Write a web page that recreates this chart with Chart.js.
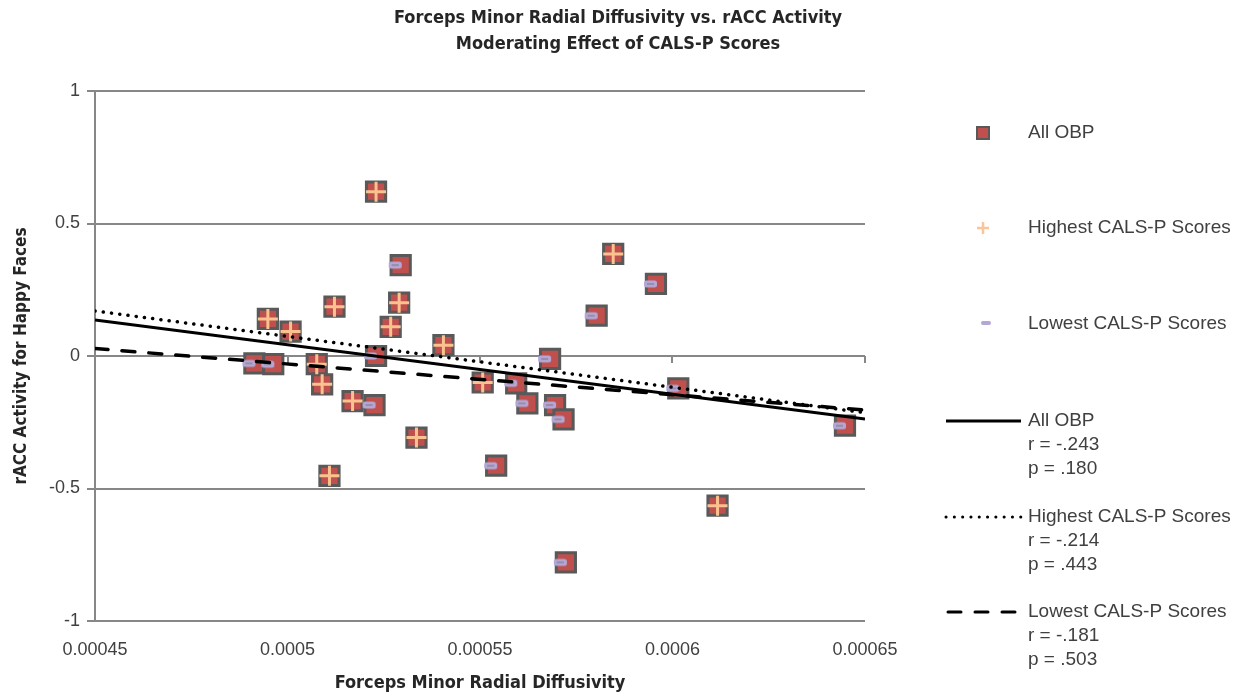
<!DOCTYPE html>
<html>
<head>
<meta charset="utf-8">
<title>Forceps Minor Radial Diffusivity vs. rACC Activity</title>
<script src="https://cdn.jsdelivr.net/npm/chart.js@4.4.1/dist/chart.umd.min.js"></script>
<style>
  html, body { margin: 0; padding: 0; background: #ffffff; }
  #wrap { position: relative; width: 1239px; height: 698px; }
</style>
</head>
<body>
<div id="wrap"><canvas id="chart" width="1239" height="698"></canvas></div>
<script>
// Participants with the highest CALS-P scores
const highestX = [0.000523, 0.000529, 0.0005122, 0.0004949, 0.0005008, 0.0005268, 0.0005076, 0.000509,
                  0.0005405, 0.0005169, 0.0005335, 0.0005109, 0.0005507, 0.0005846, 0.0006117];
const highestY = [0.62, 0.201, 0.186, 0.14, 0.092, 0.11, -0.031, -0.107,
                  0.041, -0.17, -0.308, -0.452, -0.1, 0.385, -0.565];

// Participants with the lowest CALS-P scores
const lowestX = [0.0005294, 0.0004914, 0.0004963, 0.000523, 0.0005226, 0.0005594, 0.0005623, 0.0005542,
                 0.0005682, 0.0005695, 0.0005717, 0.0005957, 0.0005803, 0.0006015, 0.0006448, 0.0005723];
const lowestY = [0.343, -0.028, -0.031, 0.0, -0.185, -0.103, -0.179, -0.414,
                 -0.011, -0.185, -0.239, 0.272, 0.152, -0.122, -0.263, -0.779];

// Linear trend lines, evaluated at both ends of the x range
const trendX = [0.00045, 0.00065];
const trendAllY = [0.136, -0.238];
const trendHighY = [0.17, -0.214];
const trendLowY = [0.028, -0.204];

// Axis tick labels
const xTickLabels = ['0.00045', '0.0005', '0.00055', '0.0006', '0.00065'];
const yTickLabels = ['-1', '-0.5', '0', '0.5', '1'];

// Legend text
const seriesNames = ['All OBP', 'Highest CALS-P Scores', 'Lowest CALS-P Scores'];
const trendStats = [['r = -.243', 'p = .180'], ['r = -.214', 'p = .443'], ['r = -.181', 'p = .503']];

const titleLines = ['Forceps Minor Radial Diffusivity vs. rACC Activity', 'Moderating Effect of CALS-P Scores'];

const zip = (xs, ys) => xs.map((x, i) => ({ x: x, y: ys[i] }));
const allX = highestX.concat(lowestX);
const allY = highestY.concat(lowestY);

const RED = '#C0504D';
const RED_EDGE = '#595959';
const ORANGE = '#F9C28F';
const LAVENDER = '#B4A7D6';
const GRID = '#878787';
const TEXT = '#404040';
const NARROW = "'Liberation Sans Narrow', 'Arial Narrow', 'DejaVu Sans Condensed', sans-serif";
const SANS = "'Liberation Sans', Arial, sans-serif";

// Small lavender dash marker, sitting a little left of the point centre
function makeDash() {
  const c = document.createElement('canvas');
  c.width = 30; c.height = 12;
  const g = c.getContext('2d');
  const x = 3, y = 2.5, w = 13, h = 7, r = 2.5;
  g.beginPath();
  g.moveTo(x + r, y); g.lineTo(x + w - r, y); g.arcTo(x + w, y, x + w, y + r, r);
  g.lineTo(x + w, y + h - r); g.arcTo(x + w, y + h, x + w - r, y + h, r);
  g.lineTo(x + r, y + h); g.arcTo(x, y + h, x, y + h - r, r);
  g.lineTo(x, y + r); g.arcTo(x, y, x + r, y, r);
  g.closePath();
  g.fillStyle = LAVENDER;
  g.fill();
  g.strokeStyle = '#8E8699';
  g.lineWidth = 1.5;
  g.beginPath();
  g.moveTo(x + 3, y + h / 2); g.lineTo(x + w - 3, y + h / 2);
  g.stroke();
  return c;
}
const dashStyle = makeDash();

// Title, the x-axis tick marks along y = 0, and the legend
const decorations = {
  id: 'decorations',
  beforeDatasetsDraw(chart) {
    const { ctx, scales } = chart;
    const y0 = scales.y.getPixelForValue(0);
    ctx.save();
    ctx.strokeStyle = GRID;
    ctx.lineWidth = 2;
    scales.x.ticks.forEach(t => {
      const px = Math.round(scales.x.getPixelForValue(t.value));
      ctx.beginPath();
      ctx.moveTo(px, y0);
      ctx.lineTo(px, y0 + 7);
      ctx.stroke();
    });
    ctx.restore();
  },
  afterDraw(chart) {
    const ctx = chart.ctx;
    ctx.save();
    // title
    ctx.fillStyle = '#262626';
    ctx.font = 'bold 18px ' + NARROW;
    ctx.textAlign = 'center';
    ctx.textBaseline = 'middle';
    ctx.fillText(titleLines[0], 618, 18);
    ctx.fillText(titleLines[1], 618, 44);

    // marker legend
    ctx.textAlign = 'left';
    ctx.fillStyle = TEXT;
    ctx.font = '19px ' + SANS;
    const tx = 1028;
    const markerRows = [133, 228, 324];
    markerRows.forEach((y, i) => ctx.fillText(seriesNames[i], tx, y));

    ctx.fillStyle = RED;
    ctx.strokeStyle = RED_EDGE;
    ctx.lineWidth = 2;
    ctx.fillRect(977, 127, 12, 12);
    ctx.strokeRect(977, 127, 12, 12);

    ctx.strokeStyle = '#FBC597';
    ctx.lineWidth = 2.5;
    ctx.beginPath();
    ctx.moveTo(977, 228); ctx.lineTo(989, 228);
    ctx.moveTo(983, 222); ctx.lineTo(983, 234);
    ctx.stroke();

    ctx.strokeStyle = LAVENDER;
    ctx.lineWidth = 4;
    ctx.lineCap = 'round';
    ctx.beginPath();
    ctx.moveTo(983, 323); ctx.lineTo(989, 323);
    ctx.stroke();

    // trend-line legend
    const groups = [421, 517, 612];
    const dashes = [[], [0.1, 8.2], [13, 14]];
    groups.forEach((y, i) => {
      ctx.fillStyle = TEXT;
      ctx.fillText(seriesNames[i], tx, y);
      ctx.fillText(trendStats[i][0], tx, y + 24);
      ctx.fillText(trendStats[i][1], tx, y + 48);
      ctx.strokeStyle = '#000000';
      ctx.lineWidth = 3;
      ctx.lineCap = i === 0 ? 'butt' : 'round';
      ctx.setLineDash(dashes[i]);
      ctx.beginPath();
      if (i === 2) {
        ctx.moveTo(948, y); ctx.lineTo(1020, y);
      } else {
        ctx.moveTo(946, y); ctx.lineTo(1021, y);
      }
      ctx.stroke();
      ctx.setLineDash([]);
    });
    ctx.restore();
  }
};

new Chart(document.getElementById('chart'), {
  type: 'scatter',
  data: {
    datasets: [
      {
        label: 'All OBP trend',
        data: zip(trendX, trendAllY),
        showLine: true,
        borderColor: '#000000',
        borderWidth: 3,
        pointRadius: 0,
        order: 0
      },
      {
        label: 'Highest CALS-P Scores trend',
        data: zip(trendX, trendHighY),
        showLine: true,
        borderColor: '#000000',
        borderWidth: 3.5,
        borderDash: [0.1, 8.2],
        borderCapStyle: 'round',
        pointRadius: 0,
        order: 1
      },
      {
        label: 'Lowest CALS-P Scores trend',
        data: zip(trendX, trendLowY),
        showLine: true,
        borderColor: '#000000',
        borderWidth: 3.5,
        borderDash: [13, 14],
        borderCapStyle: 'round',
        pointRadius: 0,
        order: 2
      },
      {
        label: seriesNames[1],
        data: zip(highestX, highestY),
        pointStyle: 'cross',
        pointRadius: 10,
        borderColor: ORANGE,
        borderWidth: 3,
        order: 3
      },
      {
        label: seriesNames[2],
        data: zip(lowestX, lowestY),
        pointStyle: dashStyle,
        order: 4
      },
      {
        label: seriesNames[0],
        data: zip(allX, allY),
        pointStyle: 'rect',
        pointRadius: 13.6,
        backgroundColor: RED,
        borderColor: RED_EDGE,
        borderWidth: 3,
        order: 5
      }
    ]
  },
  options: {
    responsive: false,
    animation: false,
    events: [],
    layout: { padding: { left: 0, top: 91, right: 374, bottom: 0 } },
    plugins: {
      legend: { display: false },
      title: { display: false },
      tooltip: { enabled: false }
    },
    scales: {
      x: {
        type: 'linear',
        min: 0.00045,
        max: 0.00065,
        afterBuildTicks(scale) {
          scale.ticks = xTickLabels.map(s => ({ value: parseFloat(s) }));
        },
        ticks: {
          callback: (v, i) => xTickLabels[i],
          color: TEXT,
          font: { family: SANS, size: 18 },
          padding: 18,
          maxRotation: 0
        },
        grid: { display: false, drawTicks: false },
        border: { display: false },
        title: {
          display: true,
          text: 'Forceps Minor Radial Diffusivity',
          color: '#262626',
          font: { family: NARROW, size: 18, weight: 'bold' },
          padding: { top: 0, bottom: 4 }
        },
        afterFit(scale) { scale.height = 77; }
      },
      y: {
        min: -1,
        max: 1,
        afterBuildTicks(scale) {
          scale.ticks = yTickLabels.map(s => ({ value: parseFloat(s) }));
        },
        ticks: {
          callback: (v, i) => yTickLabels[i],
          color: TEXT,
          font: { family: SANS, size: 18 },
          padding: 7
        },
        grid: { color: GRID, lineWidth: 2, tickLength: 8, tickColor: GRID },
        border: { display: true, color: GRID, width: 2 },
        title: {
          display: true,
          text: 'rACC Activity for Happy Faces',
          color: '#262626',
          font: { family: NARROW, size: 17, weight: 'bold' },
          padding: { top: 11, bottom: 0 }
        },
        afterFit(scale) { scale.width = 95; }
      }
    }
  },
  plugins: [decorations]
});
</script>
</body>
</html>
